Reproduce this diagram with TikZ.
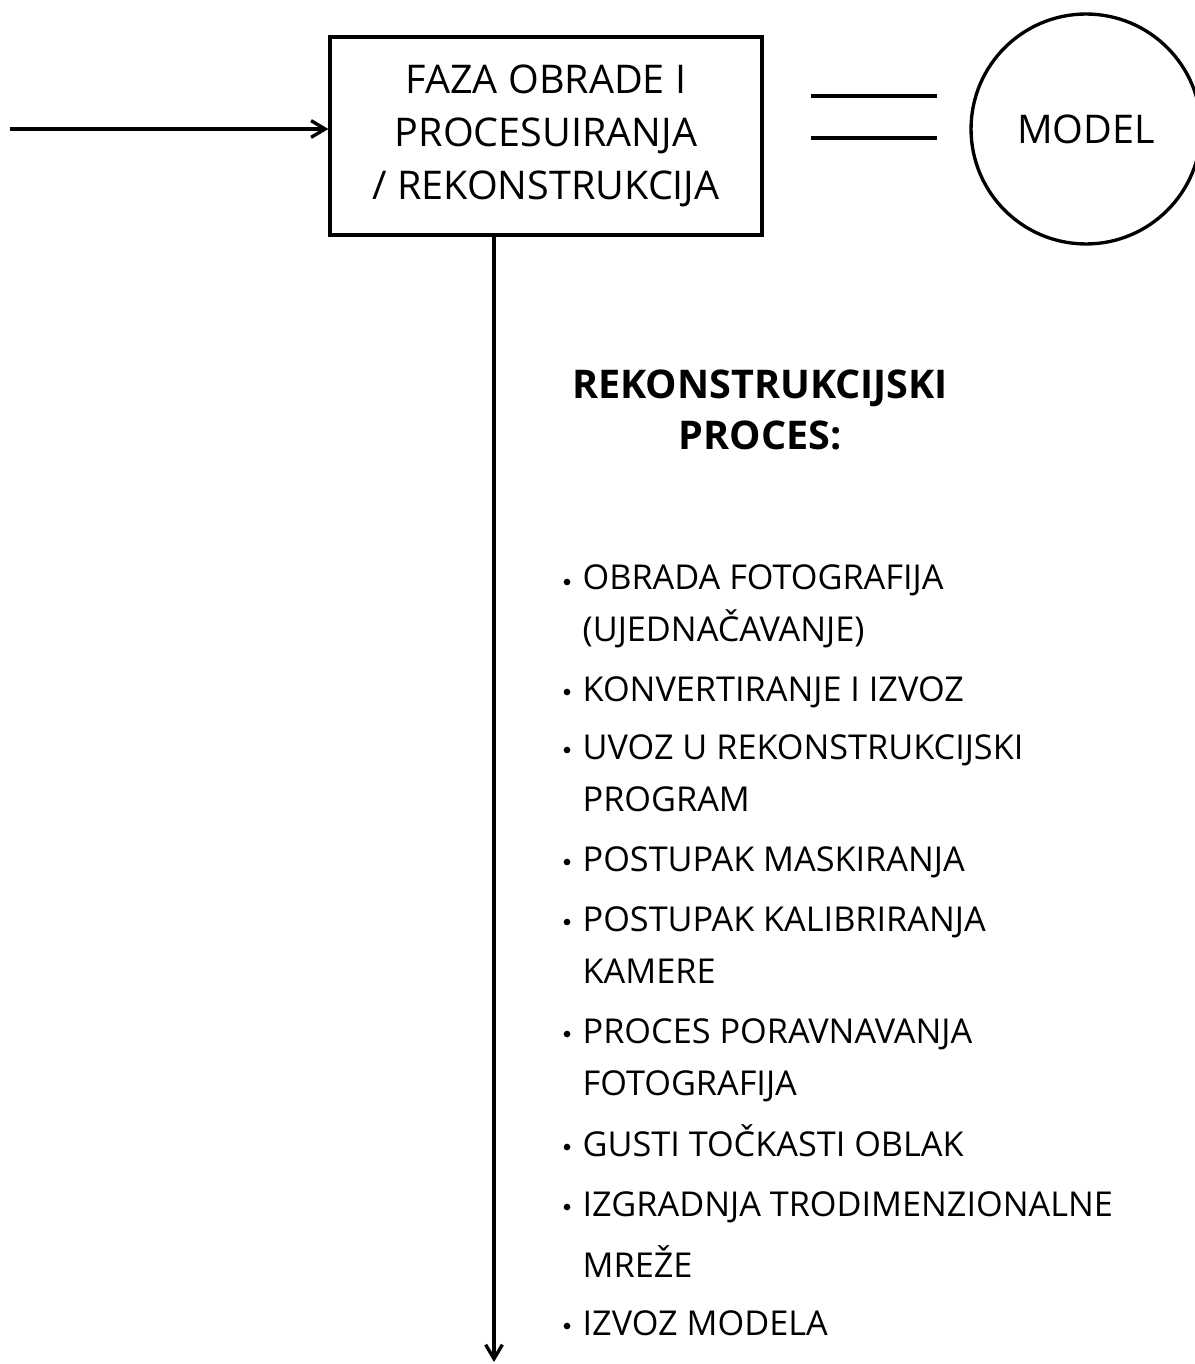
\documentclass[tikz,border=0pt]{standalone}
\usepackage{fontspec}
\setmainfont{Open Sans}
\usetikzlibrary{arrows.meta}

\begin{document}
\begin{tikzpicture}[x=0.02cm, y=-0.02cm, line width=1.9pt,
  faza/.style={draw, rectangle, minimum width=8.64cm, minimum height=3.96cm, align=center, font=\fontsize{22.5}{30.3}\selectfont},
  model/.style={draw, circle, minimum size=4.6cm, font=\fontsize{22.5}{26}\selectfont},
  stavka/.style={anchor=base west, align=left, inner sep=0pt, font=\fontsize{19.5}{29.5}\selectfont},
  tocka/.style={circle, fill, inner sep=0pt, minimum size=3.8pt},
  strelica/.style={-{Straight Barb[length=8pt, width=9.5pt, line width=1.9pt]}}]
\useasboundingbox (0,0) rectangle (1195,1364);

\node[faza] (faza) at (546,136) {FAZA OBRADE I\\PROCESUIRANJA\\/ REKONSTRUKCIJA};
\node[model] (model) at (1086,129) {MODEL};

% ulaz i izlaz
\coordinate (ulaz) at (10,129);
\coordinate (izlaz) at (494,1362);
\draw[strelica] (ulaz) -- (ulaz -| faza.west);
\draw[strelica] (faza.south -| izlaz) -- (izlaz);

% znak jednakosti
\coordinate (j1) at (811,96);
\coordinate (j2) at (937,96);
\coordinate (j3) at (811,138);
\coordinate (j4) at (937,138);
\draw (j1) -- (j2);
\draw (j3) -- (j4);

\node[anchor=base, align=center, inner sep=0pt, font=\bfseries\fontsize{22.5}{29.5}\selectfont] (naslov) at (760,450) {REKONSTRUKCIJSKI\\PROCES:};

% popis koraka (prvi red / zadnji red / tekst)
\foreach \y/\z/\t [count=\i] in {591/641/{OBRADA FOTOGRAFIJA\\(UJEDNAČAVANJE)},
    701/701/{KONVERTIRANJE I IZVOZ},
    759/811/{UVOZ U REKONSTRUKCIJSKI\\PROGRAM},
    871/871/{POSTUPAK MASKIRANJA},
    931/983/{POSTUPAK KALIBRIRANJA\\KAMERE},
    1043/1095/{PROCES PORAVNAVANJA\\FOTOGRAFIJA},
    1156/1156/{GUSTI TOČKASTI OBLAK},
    1216/1277/{IZGRADNJA TRODIMENZIONALNE\\[5pt]MREŽE},
    1335/1335/{IZVOZ MODELA}}
{
  \node[tocka] (tocka\i) at (567,\y-9) {};
  \node[stavka] (stavka\i) at (581,\z) {\t};
}
\end{tikzpicture}
\end{document}
